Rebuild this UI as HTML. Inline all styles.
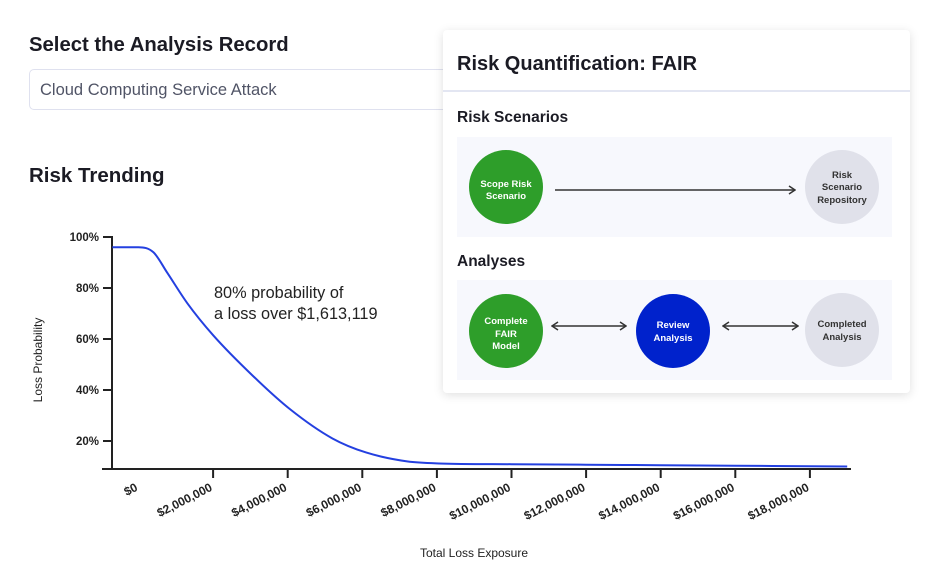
<!DOCTYPE html>
<html><head><meta charset="utf-8"><style>
body{margin:0;width:944px;height:588px;background:#fff;font-family:"Liberation Sans",sans-serif;overflow:hidden;position:relative}
.abs{position:absolute}
</style></head><body>
<div class="abs" style="left:29px;top:34px;font-size:20.3px;font-weight:bold;color:#1b1b24">Select the Analysis Record</div>
<div class="abs" style="left:29px;top:69px;width:440px;height:41px;border:1px solid #dfe1ef;border-radius:5px;box-sizing:border-box"><span style="position:absolute;left:10px;top:11px;font-size:16.5px;color:#505466">Cloud Computing Service Attack</span></div>
<div class="abs" style="left:29px;top:164px;font-size:20.5px;font-weight:bold;color:#1b1b24">Risk Trending</div>
<svg class="abs" style="left:0;top:0" width="944" height="588">
<g id="axes"></g>
<path id="curve" fill="none" stroke="#2440e0" stroke-width="2"/>
<text x="214" y="298" font-size="16.3" fill="#222">80% probability of</text>
<text x="214" y="319" font-size="16.3" fill="#222">a loss over $1,613,119</text>
<text x="474" y="557" font-size="12" fill="#222" text-anchor="middle">Total Loss Exposure</text>
<text transform="translate(42,360) rotate(-90)" font-size="12" fill="#222" text-anchor="middle">Loss Probability</text>
</svg>
<div class="abs" style="left:443px;top:30px;width:467px;height:363px;background:#fff;border-radius:4px;box-shadow:0 2px 10px rgba(0,0,0,0.13)">
<div class="abs" style="left:14px;top:23px;font-size:20px;font-weight:bold;color:#1b1b24">Risk Quantification: FAIR</div>
<div class="abs" style="left:0;top:60px;width:467px;height:2px;background:#e3e6f2"></div>
<div class="abs" style="left:14px;top:79px;font-size:15.5px;font-weight:bold;color:#1b1b24">Risk Scenarios</div>
<div class="abs" style="left:14px;top:107px;width:435px;height:100px;background:#f7f8fd"></div>
<div class="abs" style="left:14px;top:223px;font-size:15.5px;font-weight:bold;color:#1b1b24">Analyses</div>
<div class="abs" style="left:14px;top:250px;width:435px;height:100px;background:#f7f8fd"></div>
</div>
<svg class="abs" style="left:0;top:0" width="944" height="588" font-family="Liberation Sans" font-weight="bold" font-size="9.5" text-anchor="middle">
<defs><marker id="ah" markerWidth="8" markerHeight="10" refX="7" refY="5" orient="auto-start-reverse" markerUnits="userSpaceOnUse"><path d="M1,1 L7,5 L1,9" fill="none" stroke="#333" stroke-width="1.5"/></marker></defs>
<g><circle cx="506" cy="187" r="37" fill="#2e9e2a"/><text x="506" y="187" fill="#fff">Scope Risk</text><text x="506" y="199" fill="#fff">Scenario</text></g>
<line x1="555" y1="190" x2="795" y2="190" stroke="#333" stroke-width="1.5" marker-end="url(#ah)"/>
<g><circle cx="842" cy="187" r="37" fill="#e0e1ea"/><text x="842" y="178" fill="#333">Risk</text><text x="842" y="190" fill="#333">Scenario</text><text x="842" y="203" fill="#333">Repository</text></g>
<g><circle cx="506" cy="331" r="37" fill="#2e9e2a"/><text x="506" y="324" fill="#fff">Complete</text><text x="506" y="337" fill="#fff">FAIR</text><text x="506" y="349" fill="#fff">Model</text></g>
<line x1="552" y1="326" x2="626" y2="326" stroke="#333" stroke-width="1.5" marker-start="url(#ah)" marker-end="url(#ah)"/>
<g><circle cx="673" cy="331" r="37" fill="#0022cc"/><text x="673" y="328" fill="#fff">Review</text><text x="673" y="341" fill="#fff">Analysis</text></g>
<line x1="723" y1="326" x2="798" y2="326" stroke="#333" stroke-width="1.5" marker-start="url(#ah)" marker-end="url(#ah)"/>
<g><circle cx="842" cy="330" r="37" fill="#e0e1ea"/><text x="842" y="327" fill="#333">Completed</text><text x="842" y="340" fill="#333">Analysis</text></g>
</svg>
<script>
const exposureM=[-0.7,0,0.4,0.77,1.31,2.0,3.07,4.06,5.2,6.1,7.2,8.06,10,12,14,16,18,19];
const probability=[96,96,94,86,74,61.5,45.5,32.5,21,15.5,12,11.2,10.9,10.7,10.5,10.3,10.1,10];
const yTicks=[20,40,60,80,100];
const yTickLabels=["20%","40%","60%","80%","100%"];
const xTicks=[0,2,4,6,8,10,12,14,16,18];
const xTickLabels=["$0","$2,000,000","$4,000,000","$6,000,000","$8,000,000","$10,000,000","$12,000,000","$14,000,000","$16,000,000","$18,000,000"];
const X=v=>138.5+v*37.3, Y=p=>237+(100-p)*2.55;
const NS="http://www.w3.org/2000/svg", g=document.getElementById('axes');
function mk(t,a){const e=document.createElementNS(NS,t);for(const k in a)e.setAttribute(k,a[k]);g.appendChild(e);return e;}
let e=mk('line',{x1:112,y1:236,x2:112,y2:469,stroke:'#222','stroke-width':2});


e=mk('line',{x1:102,y1:469,x2:851,y2:469,stroke:'#222','stroke-width':2});


yTicks.forEach((v,i)=>{const y=Y(v);
 e=mk('line',{x1:103,y1:y,x2:112,y2:y,stroke:'#222','stroke-width':2});
 
 
 e=mk('text',{x:99,y:y+4,'font-size':11.5,'font-weight':'bold',fill:'#222','text-anchor':'end'});e.textContent=yTickLabels[i];
 
 });
xTicks.forEach((v,i)=>{const x=X(v);
 if(i>0){e=mk('line',{x1:x,y1:469,x2:x,y2:478,stroke:'#222','stroke-width':2});
 
 }
 e=mk('text',{transform:`translate(${x},${490}) rotate(-27)`,'font-size':12,'font-weight':'bold',fill:'#222','text-anchor':'end'});e.textContent=xTickLabels[i];
 
 });
const px=exposureM.map(X), py=probability.map(Y), n=px.length;
const dl=[],m=[];
for(let i=0;i<n-1;i++)dl.push((py[i+1]-py[i])/(px[i+1]-px[i]));
m[0]=dl[0];m[n-1]=dl[n-2];
for(let i=1;i<n-1;i++){m[i]=(dl[i-1]*dl[i]<=0)?0:(dl[i-1]+dl[i])/2;}
for(let i=0;i<n-1;i++){if(dl[i]===0){m[i]=m[i+1]=0;continue;}const a=m[i]/dl[i],b=m[i+1]/dl[i],s=a*a+b*b;if(s>9){const t=3/Math.sqrt(s);m[i]=t*a*dl[i];m[i+1]=t*b*dl[i];}}
let d=`M${px[0]},${py[0]}`;
for(let i=0;i<n-1;i++){const h=(px[i+1]-px[i])/3;d+=` C${px[i]+h},${py[i]+m[i]*h} ${px[i+1]-h},${py[i+1]-m[i+1]*h} ${px[i+1]},${py[i+1]}`;}
document.getElementById('curve').setAttribute('d',d);
</script>
</body></html>
